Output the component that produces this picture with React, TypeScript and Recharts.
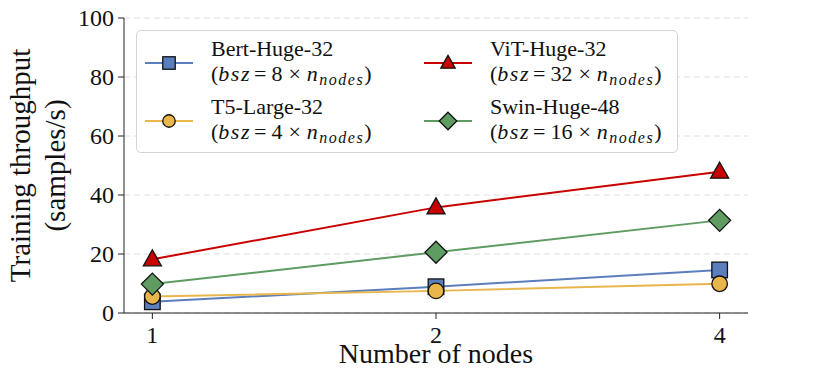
import React from "react";
import { LineChart, Line, XAxis, YAxis, CartesianGrid } from "recharts";

const nodes = ["1", "2", "4"];
const bert = [3.8, 8.9, 14.6];
const t5 = [5.6, 7.5, 9.9];
const vit = [18.2, 35.8, 47.9];
const swin = [9.8, 20.6, 31.4];
const yTicks = [0, 20, 40, 60, 80, 100];

const data = nodes.map((n, i) => ({ idx: i, bert: bert[i], t5: t5[i], vit: vit[i], swin: swin[i] }));

const BLUE = "#5b7ebd";
const ORANGE = "#e9b64c";
const RED = "#c80000";
const GREEN = "#5f9c62";
const FONT = "Liberation Serif";

type Shape = "square" | "circle" | "triangle" | "diamond";

function Marker({ cx, cy, shape, fill, s = 1 }: { cx: number; cy: number; shape: Shape; fill: string; s?: number }) {
  const common = { fill, stroke: "#111", strokeWidth: 1.3 };
  if (shape === "square") {
    const h = 7.8 * s;
    return <rect x={cx - h} y={cy - h} width={h * 2} height={h * 2} {...common} />;
  }
  if (shape === "circle") return <circle cx={cx} cy={cy} r={7.8 * s} {...common} />;
  if (shape === "triangle") {
    const w = 9 * s;
    return <polygon points={`${cx},${cy - 9.5 * s} ${cx + w},${cy + 6.5 * s} ${cx - w},${cy + 6.5 * s}`} {...common} />;
  }
  const d = 11 * s;
  return <polygon points={`${cx},${cy - d} ${cx + d},${cy} ${cx},${cy + d} ${cx - d},${cy}`} {...common} />;
}

const dot = (shape: Shape, fill: string) => (p: any) => (
  <Marker key={`${shape}-${p.index}`} cx={p.cx} cy={p.cy} shape={shape} fill={fill} />
);

const legendItems = [
  { name: "Bert-Huge-32", mult: "8", color: BLUE, shape: "square" as Shape, left: 8, top: 5 },
  { name: "T5-Large-32", mult: "4", color: ORANGE, shape: "circle" as Shape, left: 8, top: 63 },
  { name: "ViT-Huge-32", mult: "32", color: RED, shape: "triangle" as Shape, left: 287, top: 5 },
  { name: "Swin-Huge-48", mult: "16", color: GREEN, shape: "diamond" as Shape, left: 287, top: 63 },
];

const ital: React.CSSProperties = { fontFamily: "'Liberation Serif', serif", fontStyle: "italic", letterSpacing: 1.5 };

function LegendBox() {
  return (
    <div
      style={{
        position: "absolute",
        left: 136,
        top: 30,
        width: 540,
        height: 121,
        border: "1px solid #d4d4d4",
        borderRadius: 5,
        background: "rgba(255,255,255,0.85)",
        fontFamily: "'Liberation Serif', serif",
        fontSize: 22,
        lineHeight: "25px",
        color: "#111",
      }}
    >
      {legendItems.map((it) => (
        <div key={it.name} style={{ position: "absolute", left: it.left, top: it.top }}>
          <svg width={50} height={50} style={{ position: "absolute", left: 0, top: 2 }}>
            <line x1={0} x2={48} y1={25} y2={25} stroke={it.color} strokeWidth={2} />
            <Marker cx={24} cy={25} shape={it.shape} fill={it.color} s={0.8} />
          </svg>
          <div style={{ position: "absolute", left: 66, top: 0, whiteSpace: "nowrap" }}>
            <div>{it.name}</div>
            <div>
              (<span style={ital}>bsz</span>
              <span style={{ margin: "0 5px 0 3px" }}>=</span>
              {it.mult}
              <span style={{ margin: "0 6px" }}>×</span>
              <span style={ital}>n</span>
              <span style={{ ...ital, fontSize: 16, position: "relative", top: 4 }}>nodes</span>)
            </div>
          </div>
        </div>
      ))}
    </div>
  );
}

const xLabel = (props: any) => {
  const vb = props.viewBox;
  return (
    <text x={vb.x + vb.width / 2} y={vb.y + vb.height - 6} textAnchor="middle" fontSize={28} fontFamily={FONT} fill="#111">
      Number of nodes
    </text>
  );
};

const yLabel = (props: any) => {
  const vb = props.viewBox;
  const cy = vb.y + vb.height / 2;
  return (
    <g fontSize={29} fontFamily={FONT} fill="#111">
      <text transform={`translate(30, ${cy}) rotate(-90)`} textAnchor="middle">Training throughput</text>
      <text transform={`translate(65, ${cy}) rotate(-90)`} textAnchor="middle">(samples/s)</text>
    </g>
  );
};

const XTick = (p: any) => (
  <text x={p.x} y={p.y + 22} textAnchor="middle" fontSize={24} fontFamily={FONT} fill="#111">
    {nodes[p.payload.value]}
  </text>
);

const YTick = (p: any) => (
  <text x={p.x - 2} y={p.y + 8} textAnchor="end" fontSize={24} fontFamily={FONT} fill="#111">
    {p.payload.value}
  </text>
);

export default function App() {
  return (
    <div style={{ position: "absolute", left: 0, top: 0, width: 830, height: 369, background: "#fff" }}>
      <LineChart width={830} height={369} data={data} margin={{ top: 18, right: 82, left: 0, bottom: 0 }}>
        <CartesianGrid vertical={false} stroke="#dedede" strokeDasharray="6 4" />
        <XAxis
          dataKey="idx"
          type="number"
          domain={[-0.1, 2.1]}
          ticks={[0, 1, 2]}
          height={56}
          stroke="#222"
          tickSize={6}
          tick={XTick}
          label={{ content: xLabel }}
        />
        <YAxis
          domain={[0, 100]}
          ticks={yTicks}
          width={124}
          stroke="#222"
          tickSize={6}
          tick={YTick}
          label={{ content: yLabel }}
        />
        <Line dataKey="bert" stroke={BLUE} strokeWidth={2} dot={dot("square", BLUE)} isAnimationActive={false} />
        <Line dataKey="t5" stroke={ORANGE} strokeWidth={2} dot={dot("circle", ORANGE)} isAnimationActive={false} />
        <Line dataKey="vit" stroke={RED} strokeWidth={2} dot={dot("triangle", RED)} isAnimationActive={false} />
        <Line dataKey="swin" stroke={GREEN} strokeWidth={2} dot={dot("diamond", GREEN)} isAnimationActive={false} />
      </LineChart>
      <LegendBox />
    </div>
  );
}
